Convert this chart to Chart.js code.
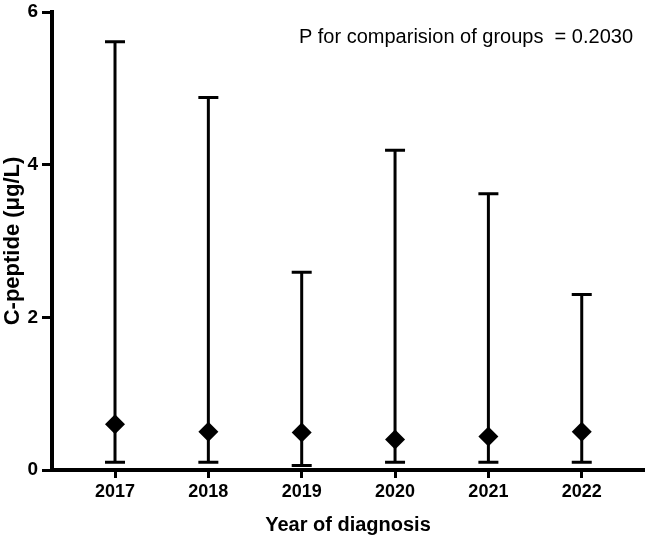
<!DOCTYPE html>
<html>
<head>
<meta charset="utf-8">
<script src="https://cdn.jsdelivr.net/npm/chart.js@4.4.1/dist/chart.umd.min.js"></script>
<style>
  html, body { margin: 0; padding: 0; background: #fff; }
  #wrap { width: 646px; height: 546px; }
</style>
</head>
<body>
<div id="wrap"><canvas id="cpepChart" width="646" height="546"></canvas></div>
<script>
const years = [2017, 2018, 2019, 2020, 2021, 2022];
const medians = [0.60, 0.50, 0.49, 0.40, 0.44, 0.50];
const lowers = [0.10, 0.10, 0.06, 0.10, 0.10, 0.10];
const uppers = [5.61, 4.88, 2.59, 4.19, 3.62, 2.30];
const yTicks = [0, 2, 4, 6];
const pText = "P for comparision of groups  = 0.2030";

const FONT = "Arial, 'Liberation Sans', sans-serif";

// whiskers drawn with the chart's own scales
const errorBars = {
    id: "errorBars",
    beforeDatasetsDraw(chart) {
        const { ctx, scales: { x, y } } = chart;
        ctx.save();
        ctx.strokeStyle = "#000";
        ctx.lineWidth = 3;
        years.forEach((yr, i) => {
            const px = x.getPixelForValue(yr);
            const top = y.getPixelForValue(uppers[i]);
            const bot = y.getPixelForValue(lowers[i]);
            ctx.beginPath();
            ctx.moveTo(px, top);
            ctx.lineTo(px, bot);
            ctx.moveTo(px - 10, top);
            ctx.lineTo(px + 10, top);
            ctx.moveTo(px - 10, bot);
            ctx.lineTo(px + 10, bot);
            ctx.stroke();
        });
        ctx.restore();
    }
};

const pLabel = {
    id: "pLabel",
    afterDraw(chart) {
        const { ctx } = chart;
        ctx.save();
        ctx.fillStyle = "#000";
        ctx.font = "20px " + FONT;
        ctx.textAlign = "right";
        ctx.textBaseline = "middle";
        ctx.fillText(pText, 633, 37);
        ctx.restore();
    }
};

const ctx = document.getElementById("cpepChart").getContext("2d");

new Chart(ctx, {
    type: "scatter",
    data: {
        datasets: [{
            data: years.map((yr, i) => ({ x: yr, y: medians[i] })),
            pointStyle: "rectRot",
            pointRadius: 10,
            pointHoverRadius: 10,
            backgroundColor: "#000",
            borderColor: "#000",
            borderWidth: 0,
            clip: false
        }]
    },
    options: {
        responsive: false,
        animation: false,
        layout: { autoPadding: false, padding: { top: 12, right: 2, left: 0, bottom: 0 } },
        plugins: {
            legend: { display: false },
            tooltip: { enabled: false }
        },
        scales: {
            x: {
                type: "linear",
                min: 2016.325,
                max: 2022.667,
                afterBuildTicks: (scale) => {
                    scale.ticks = years.map(v => ({ value: v }));
                },
                afterFit: (scale) => { scale.height = 76; },
                border: { display: true, color: "#000", width: 4 },
                grid: {
                    display: true,
                    drawOnChartArea: false,
                    drawTicks: true,
                    tickLength: 8,
                    tickWidth: 3,
                    tickColor: "#000"
                },
                ticks: {
                    color: "#000",
                    padding: 3,
                    font: { family: FONT, size: 18, weight: "bold" },
                    callback: (v) => String(v)
                },
                title: {
                    display: true,
                    text: "Year of diagnosis",
                    color: "#000",
                    font: { family: FONT, size: 20, weight: "bold" },
                    padding: { top: 0, bottom: 9 }
                }
            },
            y: {
                min: 0,
                max: 6,
                afterBuildTicks: (scale) => {
                    scale.ticks = yTicks.map(v => ({ value: v }));
                },
                afterFit: (scale) => {
                    scale.width = 52;
                    scale.paddingTop = 0;
                    scale.paddingBottom = 0;
                },
                border: { display: true, color: "#000", width: 4 },
                grid: {
                    display: true,
                    drawOnChartArea: false,
                    drawTicks: true,
                    tickLength: 10,
                    tickWidth: 3,
                    tickColor: "#000"
                },
                ticks: {
                    color: "#000",
                    padding: 4,
                    font: { family: FONT, size: 19, weight: "bold" }
                },
                title: {
                    display: true,
                    text: "C-peptide (μg/L)",
                    color: "#000",
                    font: { family: FONT, size: 22, weight: "bold" },
                    padding: { top: 0, bottom: 0 }
                }
            }
        }
    },
    plugins: [errorBars, pLabel]
});
</script>
</body>
</html>
